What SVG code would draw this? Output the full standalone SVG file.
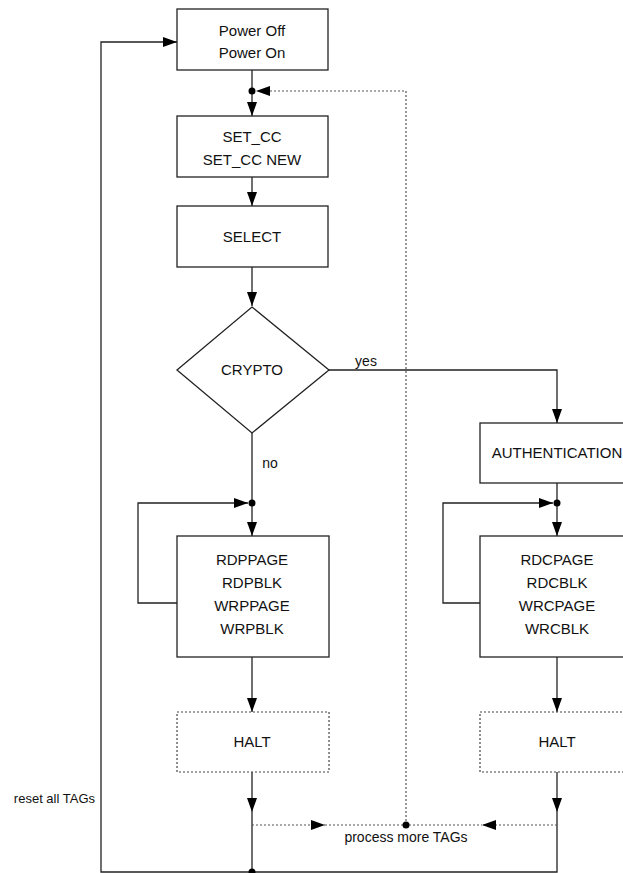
<svg xmlns="http://www.w3.org/2000/svg" width="623" height="873" viewBox="0 0 623 873">
<defs>
<style>
.box{fill:#fff;stroke:#222;stroke-width:1.3}
.dbox{fill:#fff;stroke:#444;stroke-width:1.2;stroke-dasharray:2,2}
.ln{fill:none;stroke:#222;stroke-width:1.3}
.dl{fill:none;stroke:#555;stroke-width:1.2;stroke-dasharray:2,2}
text{font-family:"Liberation Sans",Arial,sans-serif;font-size:15px;fill:#111;text-anchor:middle}
.lbl{font-size:14px}
</style>
<marker id="ah" viewBox="0 0 14 10" refX="14" refY="5" markerWidth="14" markerHeight="10" markerUnits="userSpaceOnUse" orient="auto">
<path d="M0,0 L14,5 L0,10 Z" fill="#000"/>
</marker>
</defs>
<g id="connectors">
<path class="ln" d="M252,70 V116" marker-end="url(#ah)"/>
<path class="dl" d="M406,825 V91 H256" marker-end="url(#ah)"/>
<path class="ln" d="M252,177 V206" marker-end="url(#ah)"/>
<path class="ln" d="M252,267 V306" marker-end="url(#ah)"/>
<path class="ln" d="M252,433 V536" marker-end="url(#ah)"/>
<path class="ln" d="M177,603 H138 V503 H248" marker-end="url(#ah)"/>
<path class="ln" d="M329,370 H557 V423" marker-end="url(#ah)"/>
<path class="ln" d="M557,483 V536" marker-end="url(#ah)"/>
<path class="ln" d="M480,603 H443 V503 H553" marker-end="url(#ah)"/>
<path class="ln" d="M252,657 V712" marker-end="url(#ah)"/>
<path class="ln" d="M557,657 V712" marker-end="url(#ah)"/>
<path class="ln" d="M252,772 V812" marker-end="url(#ah)"/>
<path class="ln" d="M557,772 V812" marker-end="url(#ah)"/>
<path class="ln" d="M252,812 V872"/>
<path class="ln" d="M557,812 V872 H101 V42 H177" marker-end="url(#ah)"/>
<path class="dl" d="M252,825 H325" marker-end="url(#ah)"/>
<path class="dl" d="M557,825 H482" marker-end="url(#ah)"/>
<path class="dl" d="M325,825 H482"/>
<circle cx="252" cy="91" r="3.5" fill="#000"/>
<circle cx="252" cy="503" r="3.5" fill="#000"/>
<circle cx="557" cy="503" r="3.5" fill="#000"/>
<circle cx="406" cy="825" r="3.5" fill="#000"/>
<circle cx="252" cy="872" r="3.5" fill="#000"/>
<text class="lbl" x="366" y="366">yes</text>
<text class="lbl" x="270" y="468">no</text>
<text class="lbl" x="406" y="842">process more TAGs</text>
<text x="95" y="803" style="text-anchor:end;font-size:13px">reset all TAGs</text>
</g>
<g id="power">
<rect class="box" x="177" y="9" width="151" height="61"/>
<text x="252" y="36">Power Off</text>
<text x="252" y="58">Power On</text>
</g>
<g id="setcc">
<rect class="box" x="177" y="116" width="151" height="61"/>
<text x="252" y="142">SET_CC</text>
<text x="252" y="165">SET_CC NEW</text>
</g>
<g id="select">
<rect class="box" x="177" y="206" width="151" height="61"/>
<text x="252" y="242">SELECT</text>
</g>
<g id="crypto">
<polygon class="box" points="252,307 329,370 252,433 177,370"/>
<text x="252" y="375">CRYPTO</text>
</g>
<g id="auth">
<rect class="box" x="480" y="423" width="152" height="60"/>
<text x="557" y="458">AUTHENTICATION</text>
</g>
<g id="plain">
<rect class="box" x="177" y="536" width="152" height="121"/>
<text x="252" y="565">RDPPAGE</text>
<text x="252" y="588">RDPBLK</text>
<text x="252" y="611">WRPPAGE</text>
<text x="252" y="634">WRPBLK</text>
</g>
<g id="cryptoops">
<rect class="box" x="480" y="536" width="152" height="121"/>
<text x="557" y="565">RDCPAGE</text>
<text x="557" y="588">RDCBLK</text>
<text x="557" y="611">WRCPAGE</text>
<text x="557" y="634">WRCBLK</text>
</g>
<g id="halt1">
<rect class="dbox" x="177" y="712" width="152" height="60"/>
<text x="252" y="747">HALT</text>
</g>
<g id="halt2">
<rect class="dbox" x="480" y="712" width="152" height="60"/>
<text x="557" y="747">HALT</text>
</g>
</svg>
